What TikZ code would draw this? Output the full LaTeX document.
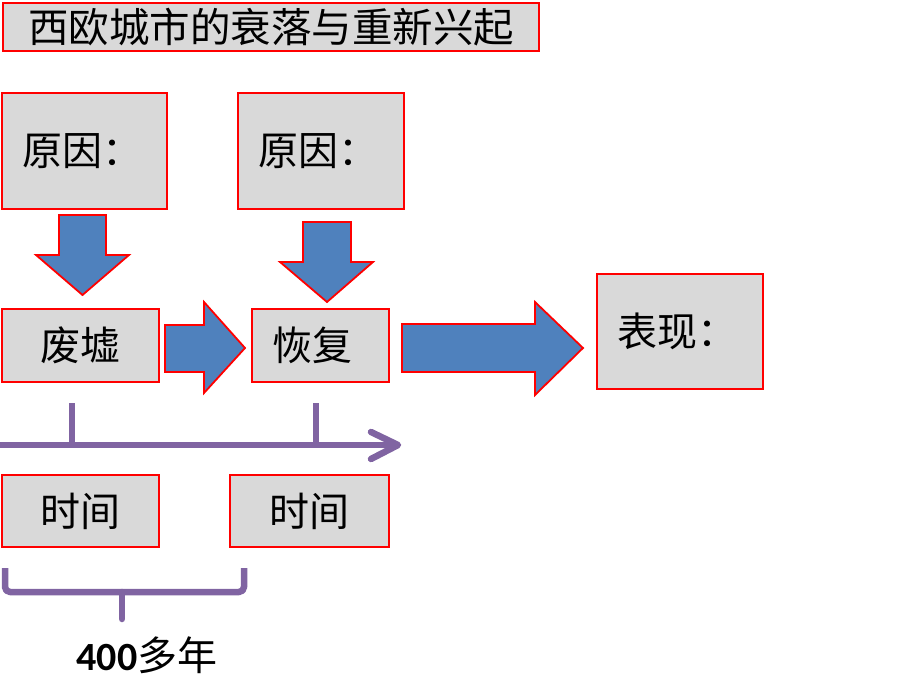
\documentclass[tikz,border=0pt]{standalone}
\usepackage{fontspec}
\setmainfont{Noto Sans CJK SC}
\newfontfamily\carl{Carlito}
\definecolor{boxgray}{HTML}{D9D9D9}
\definecolor{boxred}{HTML}{FF0000}
\definecolor{arrblue}{HTML}{4F81BD}
\definecolor{tlpurple}{HTML}{8064A2}
\tikzset{
  box/.style={draw=boxred, fill=boxgray, line width=2.4pt, anchor=north west, inner sep=0pt,
    font=\fontsize{40pt}{48pt}\selectfont},
  lbox/.style={box, inner xsep=20pt, align=left},
  blockarrow/.style={draw=boxred, fill=arrblue, line width=1.8pt, line join=miter},
  tline/.style={draw=tlpurple, line width=6.5pt, line cap=round, line join=round},
}
\begin{document}
\begin{tikzpicture}[x=1pt,y=-1pt]
\useasboundingbox (0,0) rectangle (920,690);
% title
\node[box, minimum width=536pt, minimum height=48pt, font=\fontsize{40.5pt}{46pt}\selectfont] (title) at (2,2) {西欧城市的衰落与重新兴起};
% cause boxes
\node[lbox, minimum width=165pt, minimum height=116pt, text width=125pt] (c1) at (1,92) {原因：};
\node[lbox, minimum width=166pt, minimum height=116pt, text width=126pt] (c2) at (237,92) {原因：};
% state boxes
\node[box, minimum width=157pt, minimum height=73pt] (ruin) at (1,308) {废墟};
\node[lbox, minimum width=137pt, minimum height=73pt, text width=97pt, inner xsep=20pt] (rec) at (251,308) {恢复};
\node[lbox, minimum width=166pt, minimum height=115pt, text width=126pt] (show) at (596,273) {表现：};
% time boxes
\node[box, minimum width=157pt, minimum height=72pt] (t1) at (1,474) {时间};
\node[box, minimum width=159pt, minimum height=72pt] (t2) at (229,474) {时间};
% block arrows
\draw[blockarrow] (59,215) -- (106,215) -- (106,255) -- (129,255) -- (82.5,295) -- (36,255) -- (59,255) -- cycle;
\draw[blockarrow] (303,222) -- (351,222) -- (351,262) -- (373,262) -- (327,302) -- (280,262) -- (303,262) -- cycle;
\draw[blockarrow] (165,325) -- (204,325) -- (204,302) -- (245,348) -- (204,393) -- (204,372) -- (165,372) -- cycle;
\draw[blockarrow] (402,324) -- (535,324) -- (535,302) -- (583,348) -- (535,395) -- (535,372) -- (402,372) -- cycle;
% timeline
\coordinate (tl0) at (-5,445);
\coordinate (tl1) at (398,445);
\draw[tline, line cap=butt] (tl0) -- (tl1);
\draw[tline] (371,432) -- (tl1) -- (371,459);
\draw[tline, line cap=butt] (72,403) -- (72,445);
\draw[tline, line cap=butt] (316,403) -- (316,445);
% brace
\draw[tline, line cap=butt, rounded corners=5pt] (5,568) -- (5,592) -- (244,592) -- (244,568);
\draw[tline] (122,592) -- (122,619);
% label
\node (span) at (147,655) {\fontsize{40pt}{48pt}\selectfont{\carl\bfseries 400}多年};
\end{tikzpicture}
\end{document}
